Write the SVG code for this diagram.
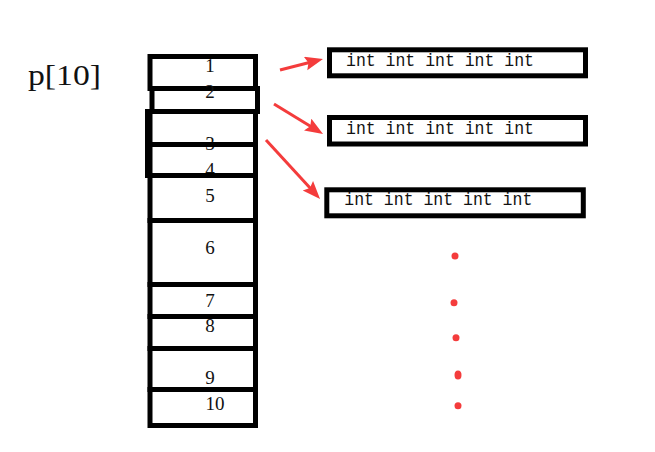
<svg xmlns="http://www.w3.org/2000/svg" width="655" height="452" viewBox="0 0 655 452">
<defs>
<style>
.cell{fill:none;stroke:#000;stroke-width:5}
.num{font-family:"Liberation Serif",serif;font-size:19px;fill:#111;text-anchor:middle}
.box{fill:none;stroke:#000;stroke-width:5}
.ints{font-family:"Liberation Mono",monospace;font-size:17.5px;fill:#111}
.arr{stroke:#f43c3c;stroke-width:3;fill:none;marker-end:url(#ah)}
.dot{fill:#f43c3c}
</style>
<marker id="ah" markerUnits="userSpaceOnUse" markerWidth="20" markerHeight="16" refX="8" refY="7" orient="auto">
<path d="M0,0 L18,7 L0,14 L3,7 z" fill="#f43c3c"/>
</marker>
</defs>
<rect width="655" height="452" fill="#fff"/>
<text x="28" y="85" font-family="'Liberation Serif',serif" font-size="29" fill="#111" textLength="73" lengthAdjust="spacingAndGlyphs">p[10]</text>
<g id="array">
<g id="cell1"><rect class="cell" x="150" y="56.5" width="105.5" height="32"/><text class="num" x="210" y="72">1</text></g>
<g id="cell2"><rect class="cell" x="152" y="88.5" width="105.5" height="23"/><text class="num" x="210" y="98">2</text></g>
<g id="cell3"><rect class="cell" x="150" y="111.5" width="105.5" height="33"/><text class="num" x="210" y="150">3</text></g>
<g id="cell4"><rect class="cell" x="150" y="144.5" width="105.5" height="31"/><text class="num" x="210" y="176">4</text></g>
<g id="cell5"><rect class="cell" x="150" y="175.5" width="105.5" height="45"/><text class="num" x="210" y="202">5</text></g>
<g id="cell6"><rect class="cell" x="150" y="220.5" width="105.5" height="64"/><text class="num" x="210" y="254">6</text></g>
<g id="cell7"><rect class="cell" x="150" y="284.5" width="105.5" height="32"/><text class="num" x="210" y="307">7</text></g>
<g id="cell8"><rect class="cell" x="150" y="316.5" width="105.5" height="32"/><text class="num" x="210" y="332">8</text></g>
<g id="cell9"><rect class="cell" x="150" y="348.5" width="105.5" height="41"/><text class="num" x="210" y="384">9</text></g>
<g id="cell10"><rect class="cell" x="150" y="389.5" width="105.5" height="36"/><text class="num" x="215" y="410">10</text></g>
<line x1="147.5" y1="109" x2="147.5" y2="178" stroke="#000" stroke-width="5"/>
</g>
<g id="row1"><rect class="box" x="329.5" y="49.8" width="256" height="26"/><text class="ints" x="346" y="66" textLength="188" lengthAdjust="spacingAndGlyphs">int int int int int</text></g>
<g id="row2"><rect class="box" x="329.5" y="117.5" width="256" height="26.5"/><text class="ints" x="346" y="133.5" textLength="188" lengthAdjust="spacingAndGlyphs">int int int int int</text></g>
<g id="row3"><rect class="box" x="326.8" y="189.8" width="256.5" height="26"/><text class="ints" x="344.3" y="205" textLength="188" lengthAdjust="spacingAndGlyphs">int int int int int</text></g>
<g id="connectors">
<line class="arr" x1="280" y1="70" x2="313.3" y2="61.5"/>
<line class="arr" x1="274" y1="104" x2="314.5" y2="128.8"/>
<line class="arr" x1="266" y1="140" x2="313.3" y2="191.6"/>
</g>
<g id="dots">
<circle class="dot" cx="455" cy="256" r="3.5"/>
<circle class="dot" cx="454" cy="302.7" r="3.5"/>
<circle class="dot" cx="456" cy="337.7" r="3.5"/>
<ellipse class="dot" cx="458" cy="375" rx="3.5" ry="4.5"/>
<circle class="dot" cx="458" cy="405.7" r="3.5"/>
</g>
</svg>
